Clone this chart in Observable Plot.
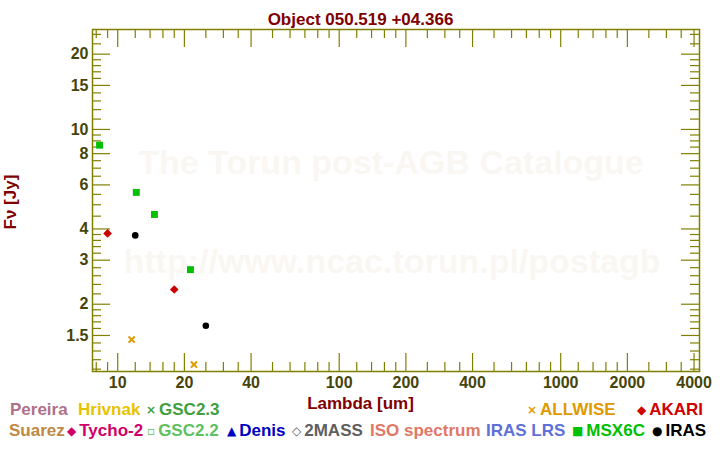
<!DOCTYPE html>
<html>
<head>
<meta charset="utf-8">
<script src="https://cdn.jsdelivr.net/npm/d3@7"></script>
<script src="https://cdn.jsdelivr.net/npm/@observablehq/plot@0.6"></script>
<style>
  html, body { margin: 0; padding: 0; background: #fff; }
  #wrap { position: relative; width: 720px; height: 450px; overflow: hidden; font-family: "Liberation Sans", Arial, sans-serif; }
  .leg { position: absolute; font-size: 17px; font-weight: bold; line-height: 18px; white-space: nowrap; }
  .sym { font-family: "DejaVu Sans", sans-serif; font-size: 12px; display: inline-block; vertical-align: 1px; margin-right: 3px; }
</style>
</head>
<body>
<div id="wrap"></div>
<script>
// ---- data ----
const titleText = "Object 050.519 +04.366";
const xLabelText = "Lambda [um]";
const yLabelText = "Fν [Jy]";
const watermark = ["The Torun post-AGB Catalogue", "http://www.ncac.torun.pl/postagb"];

const msxWave = [8.28, 12.13, 14.65, 21.3];
const msxFlux = [8.65, 5.60, 4.57, 2.75];
const akariWave = [9, 18];
const akariFlux = [3.84, 2.29];
const irasWave = [12, 25];
const irasFlux = [3.77, 1.64];
const allwiseWave = [11.56, 22.09];
const allwiseFlux = [1.445, 1.148];

const xTickLabels = [10, 20, 40, 100, 200, 400, 1000, 2000, 4000];
const xMinorTicks = [8, 9, 12, 14, 16, 18, 25, 30, 35, 50, 60, 70, 80, 90, 120, 140, 160, 180, 250, 300, 350, 500, 600, 700, 800, 900, 1200, 1400, 1600, 1800, 2500, 3000, 3500];
const yTickLabels = [1.5, 2, 3, 4, 6, 8, 10, 15, 20];
const yMinorTicks = [1.1, 1.2, 1.3, 1.4, 1.6, 1.7, 1.8, 1.9, 2.2, 2.4, 2.6, 2.8, 3.2, 3.4, 3.6, 3.8, 4.5, 5, 5.5, 6.5, 7, 7.5, 8.5, 9, 9.5, 11, 12, 13, 14, 16, 17, 18, 19, 22, 24];
const xDomain = [7.694, 4233];
const yDomain = [1.0764, 25.1];

const legendNames1 = ["Pereira", "Hrivnak", "GSC2.3", "ALLWISE", "AKARI"];
const legendSymbols1 = ["", "", "×", "×", "◆"];
const legendNames2 = ["Suarez", "Tycho-2", "GSC2.2", "Denis", "2MASS", "ISO spectrum", "IRAS LRS", "MSX6C", "IRAS"];
const legendSymbols2 = ["", "◆", "▫", "▲", "◇", "", "", "■", "●"];

// ---- styles / layout ----
const olive = "#808000";
const tickText = "#45450a";
const maroon = "#800000";
const legendColors1 = ["#b07088", "#e6c300", "#40a040", "#e09a00", "#d00000"];
const legendColors2 = ["#c08840", "#d0006a", "#60c060", "#0000c0", "#606060", "#e07868", "#6070d8", "#00c000", "#000000"];
const legendX1 = [10, 78, 146, 527, 637];
const legendX2 = [9, 67, 147, 227, 292, 370, 486, 572, 652];

const W = 720, H = 450, mL = 92, mR = 21, mT = 29, mB = 79;
const fw = W - mL - mR, fh = H - mT - mB;
const majLen = 18, minLen = 9;

const pts = (xs, ys) => xs.map((x, i) => ({x, y: ys[i]}));

const chart = Plot.plot({
  width: W, height: H,
  marginLeft: mL, marginRight: mR, marginTop: mT, marginBottom: mB,
  style: {fontFamily: '"Liberation Sans", Arial, sans-serif', fontWeight: "bold", fontSize: "16px", background: "white"},
  x: {type: "log", domain: xDomain},
  y: {type: "log", domain: yDomain},
  marks: [
    Plot.text([watermark[0]], {frameAnchor: "middle", dx: -5, dy: -37, fill: "#faf7f3", fontSize: 34, fontWeight: "bold"}),
    Plot.text([watermark[1]], {frameAnchor: "middle", dx: -4, dy: 62, fill: "#faf7f3", fontSize: 34, fontWeight: "bold"}),
    // ticks (inside the frame, mirrored)
    Plot.tickX(xTickLabels, {x: d => d, stroke: olive, strokeWidth: 1.2, insetTop: fh - majLen}),
    Plot.tickX(xTickLabels, {x: d => d, stroke: olive, strokeWidth: 1.2, insetBottom: fh - majLen}),
    Plot.tickX(xMinorTicks, {x: d => d, stroke: olive, strokeWidth: 1.2, insetTop: fh - minLen}),
    Plot.tickX(xMinorTicks, {x: d => d, stroke: olive, strokeWidth: 1.2, insetBottom: fh - minLen}),
    Plot.tickY(yTickLabels, {y: d => d, stroke: olive, strokeWidth: 1.2, insetRight: fw - majLen}),
    Plot.tickY(yTickLabels, {y: d => d, stroke: olive, strokeWidth: 1.2, insetLeft: fw - majLen}),
    Plot.tickY(yMinorTicks, {y: d => d, stroke: olive, strokeWidth: 1.2, insetRight: fw - minLen}),
    Plot.tickY(yMinorTicks, {y: d => d, stroke: olive, strokeWidth: 1.2, insetLeft: fw - minLen}),
    Plot.frame({stroke: olive, strokeWidth: 1.5}),
    Plot.axisX({ticks: xTickLabels, tickSize: 0, tickPadding: 5, tickFormat: d => String(d), label: null, color: tickText, fontSize: 16, fontWeight: "bold"}),
    Plot.axisY({ticks: yTickLabels, tickSize: 0, tickPadding: 4, tickFormat: d => String(d), label: null, color: tickText, fontSize: 16, fontWeight: "bold"}),
    // titles
    Plot.text([titleText], {frameAnchor: "top", dx: -35.5, dy: -17, fill: maroon, fontSize: 17, fontWeight: "bold"}),
    Plot.text([xLabelText], {frameAnchor: "bottom", dx: -35.5, dy: 37, fill: maroon, fontSize: 17, fontWeight: "bold"}),
    Plot.text([yLabelText], {frameAnchor: "left", dx: -82, dy: 29, rotate: -90, fill: maroon, fontSize: 17, fontWeight: "bold"}),
    // data
    Plot.dot(pts(msxWave, msxFlux), {x: "x", y: "y", symbol: "square", r: 3.9, fill: "#00c000"}),
    Plot.dot(pts(akariWave, akariFlux), {x: "x", y: "y", symbol: "diamond2", r: 3.9, fill: "#cc0000"}),
    Plot.dot(pts(irasWave, irasFlux), {x: "x", y: "y", r: 3.3, fill: "#000000"}),
    Plot.dot(pts(allwiseWave, allwiseFlux), {x: "x", y: "y", symbol: "times", r: 2.9, stroke: "#e09a00", strokeWidth: 2})
  ]
});

const wrap = document.getElementById("wrap");
wrap.appendChild(chart);

function addLegend(names, symbols, colors, xs, top) {
  names.forEach((n, i) => {
    const el = document.createElement("div");
    el.className = "leg";
    el.style.left = xs[i] + "px";
    el.style.top = top + "px";
    el.style.color = colors[i];
    if (symbols[i]) {
      const s = document.createElement("span");
      s.className = "sym";
      s.textContent = symbols[i];
      el.appendChild(s);
    }
    el.appendChild(document.createTextNode(n));
    wrap.appendChild(el);
  });
}
addLegend(legendNames1, legendSymbols1, legendColors1, legendX1, 401);
addLegend(legendNames2, legendSymbols2, legendColors2, legendX2, 422);
</script>
</body>
</html>
